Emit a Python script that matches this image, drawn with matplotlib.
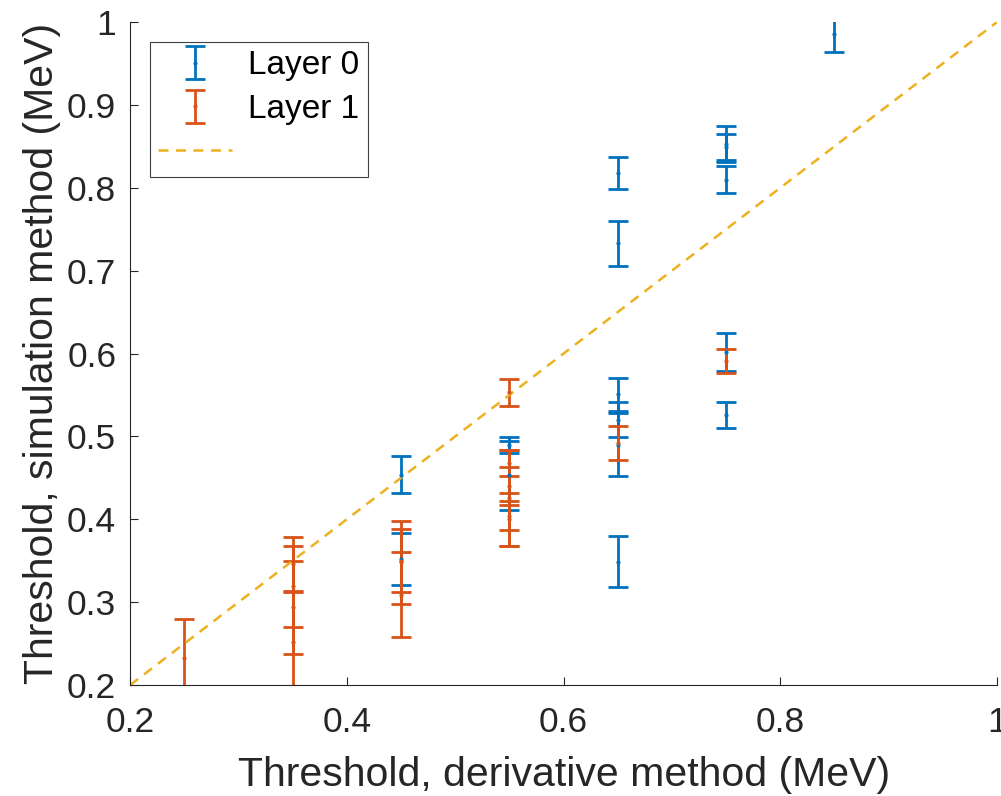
import matplotlib.pyplot as plt

plt.rcParams['font.family'] = ['Liberation Sans', 'DejaVu Sans']

# layer 0 (blue)
x0 = [0.45, 0.45, 0.55, 0.55, 0.65, 0.65, 0.65, 0.65, 0.65, 0.65, 0.75, 0.75, 0.75, 0.75, 0.75, 0.85]
y0 = [0.454, 0.352, 0.4895, 0.453, 0.818, 0.733, 0.551, 0.520, 0.490, 0.349, 0.853, 0.849, 0.810, 0.602, 0.526, 0.985]
e0 = [0.022, 0.031, 0.010, 0.042, 0.019, 0.027, 0.020, 0.021, 0.038, 0.031, 0.022, 0.016, 0.016, 0.023, 0.016, 0.021]

# layer 1 (orange)
x1 = [0.25, 0.35, 0.35, 0.35, 0.35, 0.45, 0.45, 0.45, 0.55, 0.55, 0.55, 0.55, 0.55, 0.55, 0.65, 0.75]
y1 = [0.233, 0.346, 0.319, 0.294, 0.252, 0.348, 0.309, 0.350, 0.553, 0.468, 0.426, 0.4045, 0.400, 0.440, 0.492, 0.591]
e1 = [0.047, 0.033, 0.049, 0.056, 0.060, 0.050, 0.051, 0.038, 0.016, 0.016, 0.058, 0.017, 0.032, 0.023, 0.021, 0.014]

ref_line = [0.2, 1.0]
ticks = [0.2, 0.4, 0.6, 0.8, 1.0]
tick_labels = ['0.2', '0.4', '0.6', '0.8', '1']
yticks = [0.2, 0.3, 0.4, 0.5, 0.6, 0.7, 0.8, 0.9, 1.0]
ytick_labels = ['0.2', '0.3', '0.4', '0.5', '0.6', '0.7', '0.8', '0.9', '1']

blue = '#0072BD'
orange = '#D95319'
yellow = '#EDB120'

fig = plt.figure(figsize=(10.01, 7.96), dpi=100)
ax = fig.add_axes([0.130, 0.1394, 0.866, 0.8329])

h0 = ax.errorbar(x0, y0, yerr=e0, fmt='.', color=blue, ecolor=blue,
                 elinewidth=2.0, capsize=7, capthick=2.0, markersize=4,
                 label='Layer 0')
h1 = ax.errorbar(x1, y1, yerr=e1, fmt='.', color=orange, ecolor=orange,
                 elinewidth=2.0, capsize=7, capthick=2.0, markersize=4,
                 label='Layer 1')
ln, = ax.plot(ref_line, ref_line, '--', color=yellow, linewidth=1.8,
              dashes=(4, 3), label=' ')

ax.set_xlim(0.2, 1.0)
ax.set_ylim(0.2, 1.0)
ax.set_xticks(ticks)
ax.set_xticklabels(tick_labels)
ax.set_yticks(yticks)
ax.set_yticklabels(ytick_labels)

for s in ['top', 'right']:
    ax.spines[s].set_visible(False)
for s in ['left', 'bottom']:
    ax.spines[s].set_color('#262626')
    ax.spines[s].set_linewidth(0.8)
ax.tick_params(direction='in', length=6, width=0.8, colors='#262626',
               labelsize=25.5)
ax.tick_params(axis='x', pad=15)
ax.tick_params(axis='y', pad=10)

ax.set_xlabel('Threshold, derivative method (MeV)', fontsize=29.5, color='#262626', labelpad=12)
ax.set_ylabel('Threshold, simulation method (MeV)', fontsize=29.5, color='#262626', labelpad=4)

leg = ax.legend(handles=[h0, h1, ln], loc='upper left',
                bbox_to_anchor=(0.023, 0.970), fontsize=24, fancybox=False,
                edgecolor='#404040', framealpha=1, handlelength=2.2,
                handletextpad=0.5, borderpad=0.25, labelspacing=0.38,
                borderaxespad=0)
leg.get_frame().set_linewidth(0.8)

plt.savefig('out.png', dpi=100)
